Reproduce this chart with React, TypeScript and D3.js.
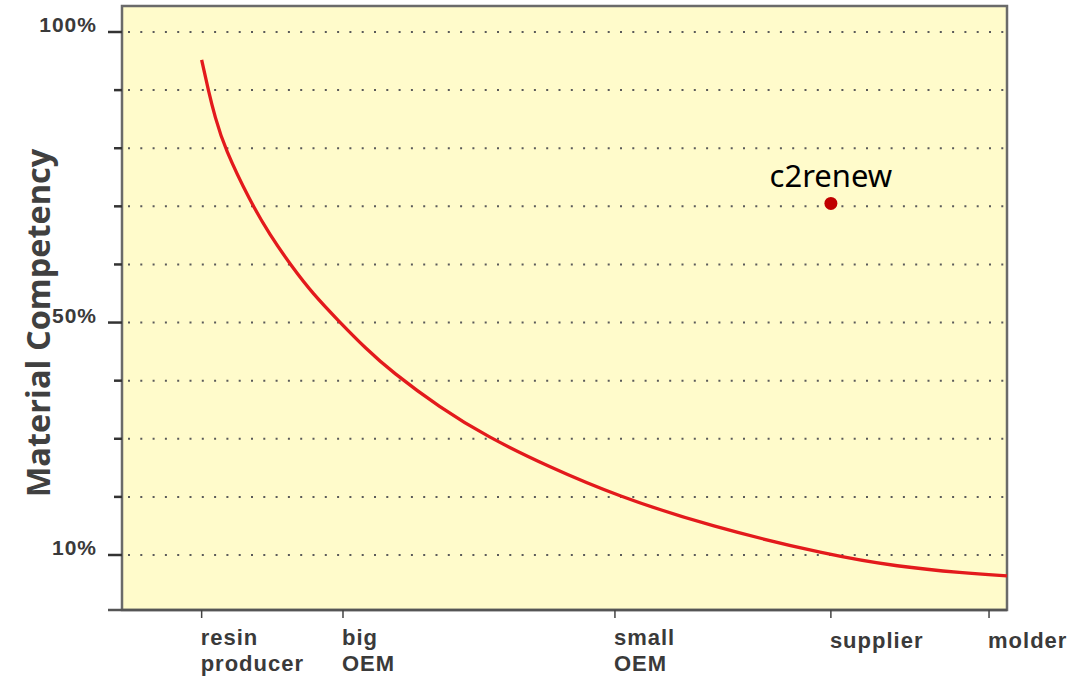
import React from 'react';
import * as d3 from 'd3';

// categories on the x axis and where they sit (0..100 position units)
const categories = [
  { lines: ['resin', 'producer'], pos: 9.0 },
  { lines: ['big', 'OEM'], pos: 24.97 },
  { lines: ['small', 'OEM'], pos: 55.7 },
  { lines: ['supplier'], pos: 80.1 },
  { lines: ['molder'], pos: 97.97 },
];

// competency curve
const curveX = [9.0, 9.75, 10.5, 11.6, 14.5, 16.7, 19.2, 21.6, 24.4, 27.5, 30.5, 35.9, 41.2, 48.2, 55.9, 66.4, 79.8, 87.7, 95.0, 100];
const curveY = [95.2, 90.0, 85.4, 80.0, 70.8, 65.1, 59.6, 54.9, 50.4, 45.6, 41.5, 35.4, 30.4, 25.2, 20.2, 14.95, 10.0, 8.0, 6.9, 6.4];

const gridValues = [10, 20, 30, 40, 50, 60, 70, 80, 90, 100];
const labeledTicks = [10, 50, 100];

const pointLabel = 'c2renew';
const pointX = 80.1;
const pointY = 70.5;

const W = 1091;
const H = 677;
const left = 122, right = 1007, top = 6, bottom = 610;

export default function App() {
  const x = d3.scaleLinear().domain([0, 100]).range([left, right]);
  const y = d3.scaleLinear().domain([10, 100]).range([555, 32]);

  const pts: [number, number][] = curveX.map((v, i) => [v, curveY[i]]);
  const line = d3.line<[number, number]>()
    .x(d => x(d[0]))
    .y(d => y(d[1]))
    .curve(d3.curveBasis);

  const axisFont = "'Liberation Sans', Arial, sans-serif";

  return (
    <svg width={W} height={H} style={{ position: 'absolute', left: 0, top: 0 }}>
      <rect x={0} y={0} width={W} height={H} fill="#ffffff" />
      <rect x={left} y={top} width={right - left} height={bottom - top} fill="#fffbcb" />

      {gridValues.map(v => (
        <line key={'g' + v} x1={left + 6} x2={right} y1={y(v)} y2={y(v)}
          stroke="#5a5a5a" strokeWidth={2} strokeDasharray="2 10.3" />
      ))}

      {/* frame */}
      <rect x={left} y={top} width={right - left} height={bottom - top}
        fill="none" stroke="#6a6a6a" strokeWidth={2.5} />
      <line x1={108} x2={right} y1={bottom} y2={bottom} stroke="#555" strokeWidth={2.5} />

      {gridValues.map(v => (
        <line key={'t' + v} x1={labeledTicks.includes(v) ? 108 : 114} x2={left}
          y1={y(v)} y2={y(v)} stroke="#333" strokeWidth={2.5} />
      ))}
      {labeledTicks.map(v => (
        <text key={'l' + v} x={97} y={y(v)} textAnchor="end" fontFamily={axisFont}
          fontWeight="bold" fontSize={21} letterSpacing={1} fill="#3a3a3a">{v}%</text>
      ))}

      {categories.map(c => (
        <g key={c.lines.join(' ')}>
          <line x1={x(c.pos)} x2={x(c.pos)} y1={bottom} y2={bottom + 8} stroke="#444" strokeWidth={1.5} />
          {c.lines.map((t, i) => (
            <text key={t} x={x(c.pos) - 1} y={c.lines.length === 1 ? 648 : 645 + i * 26}
              fontFamily={axisFont} fontWeight="bold" fontSize={22} letterSpacing={1} fill="#3a3a3a">{t}</text>
          ))}
        </g>
      ))}

      <path d={line(pts) || ''} fill="none" stroke="#e31a1c" strokeWidth={3.3} />

      <circle cx={x(pointX)} cy={y(pointY)} r={6.5} fill="#c00000" />
      <text x={x(pointX)} y={187} textAnchor="middle" fontFamily="'Noto Sans', sans-serif"
        fontSize={31} fill="#000">{pointLabel}</text>

      <text transform={`translate(50,${323}) rotate(-90)`} textAnchor="middle"
        fontFamily="'Open Sans', sans-serif" fontWeight="bold" fontSize={32.5} fill="#404040">
        Material Competency
      </text>
    </svg>
  );
}
